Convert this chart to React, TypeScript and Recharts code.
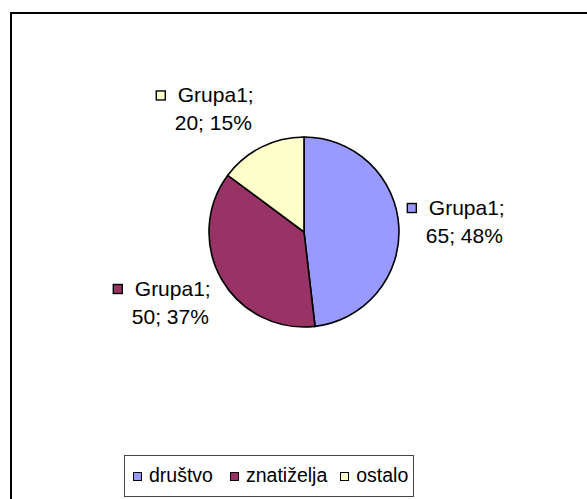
import React from "react";
import { PieChart, Pie, Cell, Legend } from "recharts";

const categories = ["društvo", "znatiželja", "ostalo"];
const values = [65, 50, 20];
const colors = ["#9999FF", "#993366", "#FFFFCC"];
const seriesName = "Grupa1";

const FONT = "'Liberation Sans', Arial, sans-serif";

const data = categories.map((name, i) => ({ name, value: values[i] }));

const RAD = Math.PI / 180;

function renderLabel(props: any) {
  const { cx, cy, midAngle, outerRadius, percent, value, index } = props;
  const r = outerRadius + 8;
  const px = cx + r * Math.cos(-midAngle * RAD);
  const py = cy + r * Math.sin(-midAngle * RAD);
  const s = Math.sin(midAngle * RAD);
  const c = Math.max(-1, Math.min(1, s * 2));
  const H = 50;
  const BW = 100;
  const top = py - H / 2 - (c * H) / 2 - 5 * Math.abs(c);
  const left = Math.cos(midAngle * RAD) >= 0 ? px : px - 2 - BW;
  const b1 = top + 17;
  return (
    <g>
      <rect
        x={left + 0.5}
        y={b1 - 11}
        width={9}
        height={9}
        fill={colors[index]}
        stroke="#000"
        strokeWidth={1.4}
      />
      <text x={left + 22} y={b1} fontFamily={FONT} fontSize={21} fill="#000">
        {seriesName};
      </text>
      <text x={left + 19} y={b1 + 28} fontFamily={FONT} fontSize={21} fill="#000">
        {`${value}; ${Math.round(percent * 100)}%`}
      </text>
    </g>
  );
}

function renderLegend() {
  const gaps = [17, 13, 0];
  return (
    <div
      style={{
        boxSizing: "border-box",
        width: 290,
        height: 42,
        border: "1.5px solid #444",
        background: "#fff",
        display: "flex",
        alignItems: "flex-start",
        paddingLeft: 8,
        paddingTop: 4,
        fontFamily: FONT,
        fontSize: 19.5,
        lineHeight: "30px",
        color: "#000",
        whiteSpace: "nowrap",
      }}
    >
      {categories.map((name, i) => (
        <div key={name} style={{ display: "flex", alignItems: "center", marginRight: gaps[i] }}>
          <span
            style={{
              boxSizing: "border-box",
              display: "inline-block",
              width: 9,
              height: 9,
              marginRight: 7,
              marginTop: 3,
              background: colors[i],
              border: "1.3px solid #000",
            }}
          />
          <span>{name}</span>
        </div>
      ))}
    </div>
  );
}

export default function App() {
  return (
    <div
      style={{
        position: "fixed",
        left: 0,
        top: 0,
        width: 587,
        height: 499,
        overflow: "hidden",
        background: "#fff",
      }}
    >
      <div
        style={{
          position: "absolute",
          left: 10,
          top: 12,
          width: 620,
          height: 540,
          borderLeft: "2.5px solid #000",
          borderTop: "2.5px solid #000",
        }}
      />
      <div style={{ position: "absolute", left: 0, top: 0 }}>
        <PieChart width={587} height={499} margin={{ top: 0, right: 0, bottom: 0, left: 0 }}>
          <Pie
            data={data}
            dataKey="value"
            nameKey="name"
            cx={304}
            cy={232}
            outerRadius={95}
            startAngle={90}
            endAngle={-270}
            stroke="#000"
            strokeWidth={1.6}
            labelLine={false}
            label={renderLabel}
            isAnimationActive={false}
          >
            {data.map((d, i) => (
              <Cell key={d.name} fill={colors[i]} />
            ))}
          </Pie>
          <Legend
            content={renderLegend}
            wrapperStyle={{ position: "absolute", left: 124, top: 455, width: 290, height: 42 }}
          />
        </PieChart>
      </div>
    </div>
  );
}
